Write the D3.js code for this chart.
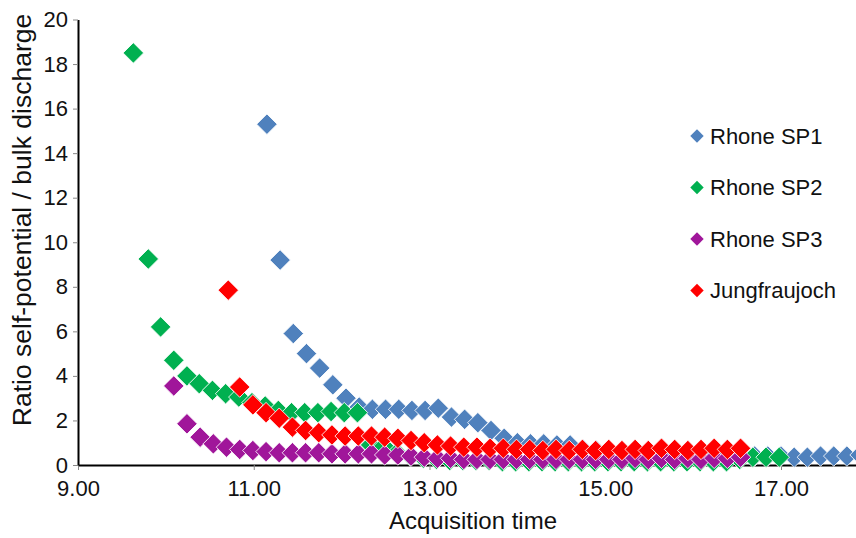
<!DOCTYPE html>
<html>
<head>
<meta charset="utf-8">
<script src="https://cdn.jsdelivr.net/npm/d3@7"></script>
<style>
  html, body { margin: 0; padding: 0; background: #fff; }
  svg { display: block; font-family: "Liberation Sans", Arial, sans-serif; }
</style>
</head>
<body>
<svg id="chart" width="856" height="538"></svg>
<script>
// Acquisition times (decimal hours) and ratio values for each station
const sp1Time = [11.15, 11.30, 11.45, 11.60, 11.75, 11.90, 12.05, 12.20, 12.35, 12.50, 12.65, 12.80, 12.95, 13.10,
  13.25, 13.40, 13.55, 13.70, 13.85, 14.00, 14.15, 14.30, 14.45, 14.60, 14.75, 14.90, 15.05, 15.20, 15.35, 15.50,
  15.65, 15.80, 15.95, 16.10, 16.25, 16.40, 16.55, 16.70, 16.85, 17.00, 17.15, 17.30, 17.45, 17.60, 17.75, 17.90, 18.05];
const sp1Ratio = [15.3, 9.2, 5.9, 5.0, 4.35, 3.6, 3.0, 2.6, 2.5, 2.5, 2.5, 2.45, 2.45, 2.55,
  2.15, 2.05, 1.9, 1.55, 1.2, 1.0, 0.95, 0.95, 0.9, 0.9, 0.7, 0.65, 0.6, 0.6, 0.55, 0.55,
  0.5, 0.5, 0.5, 0.5, 0.45, 0.45, 0.45, 0.4, 0.4, 0.4, 0.35, 0.35, 0.4, 0.4, 0.4, 0.45, 0.45];

const sp2Time = [9.63, 9.80, 9.94, 10.09, 10.24, 10.38, 10.53, 10.68, 10.83, 10.98, 11.13, 11.28, 11.43, 11.58,
  11.73, 11.88, 12.03, 12.18, 12.33, 12.48, 12.63, 12.78, 12.93, 13.08, 13.23, 13.38, 13.53, 13.68, 13.83, 13.98,
  14.13, 14.28, 14.43, 14.58, 14.73, 14.88, 15.03, 15.18, 15.33, 15.48, 15.63, 15.78, 15.93, 16.08, 16.23, 16.38,
  16.53, 16.68, 16.83, 16.98];
const sp2Ratio = [18.5, 9.25, 6.2, 4.7, 4.0, 3.65, 3.35, 3.2, 3.05, 2.8, 2.65, 2.45, 2.35, 2.35,
  2.35, 2.4, 2.35, 2.35, 0.9, 0.85, 0.55, 0.4, 0.3, 0.25, 0.2, 0.2, 0.2, 0.2, 0.15, 0.15,
  0.15, 0.15, 0.15, 0.15, 0.15, 0.15, 0.15, 0.15, 0.15, 0.15, 0.15, 0.15, 0.15, 0.15, 0.15, 0.15,
  0.25, 0.35, 0.35, 0.35];

const sp3Time = [10.09, 10.24, 10.39, 10.54, 10.69, 10.84, 10.99, 11.14, 11.29, 11.44, 11.59, 11.74, 11.89, 12.04,
  12.19, 12.34, 12.49, 12.64, 12.79, 12.94, 13.09, 13.24, 13.39, 13.54, 13.69, 13.84, 13.99, 14.14, 14.29, 14.44,
  14.59, 14.74, 14.89, 15.04, 15.19, 15.34, 15.49, 15.64, 15.79, 15.94, 16.09, 16.24, 16.39, 16.54];
const sp3Ratio = [3.55, 1.85, 1.25, 0.95, 0.8, 0.7, 0.65, 0.6, 0.55, 0.55, 0.55, 0.55, 0.5, 0.5,
  0.5, 0.5, 0.45, 0.45, 0.4, 0.35, 0.3, 0.3, 0.25, 0.25, 0.25, 0.25, 0.25, 0.25, 0.25, 0.25,
  0.25, 0.25, 0.25, 0.25, 0.25, 0.3, 0.25, 0.3, 0.25, 0.3, 0.25, 0.3, 0.3, 0.35];

const jfjTime = [10.71, 10.84, 10.99, 11.14, 11.29, 11.44, 11.59, 11.74, 11.89, 12.04, 12.19, 12.34, 12.49, 12.64,
  12.79, 12.94, 13.09, 13.24, 13.39, 13.54, 13.69, 13.84, 13.99, 14.14, 14.29, 14.44, 14.59, 14.74, 14.89, 15.04,
  15.19, 15.34, 15.49, 15.64, 15.79, 15.94, 16.09, 16.24, 16.39, 16.54];
const jfjRatio = [7.85, 3.5, 2.7, 2.35, 2.1, 1.7, 1.55, 1.45, 1.35, 1.3, 1.3, 1.3, 1.25, 1.2,
  1.1, 1.0, 0.9, 0.85, 0.8, 0.8, 0.75, 0.75, 0.7, 0.7, 0.65, 0.7, 0.65, 0.7, 0.65, 0.7,
  0.65, 0.7, 0.65, 0.75, 0.7, 0.65, 0.7, 0.75, 0.7, 0.75];

const seriesNames = ["Rhone SP1", "Rhone SP2", "Rhone SP3", "Jungfraujoch"];
const seriesColors = ["#4f81bd", "#00b050", "#a0169a", "#ff0000"];
const xTicks = [9, 11, 13, 15, 17];
const yTicks = [0, 2, 4, 6, 8, 10, 12, 14, 16, 18, 20];

const series = [
  { name: seriesNames[0], color: seriesColors[0], t: sp1Time, v: sp1Ratio },
  { name: seriesNames[1], color: seriesColors[1], t: sp2Time, v: sp2Ratio },
  { name: seriesNames[2], color: seriesColors[2], t: sp3Time, v: sp3Ratio },
  { name: seriesNames[3], color: seriesColors[3], t: jfjTime, v: jfjRatio }
];

const svg = d3.select("#chart");
const plotLeft = 78, plotBottom = 465, plotTop = 19.5;
const pxPerHour = 87.875;

const x = d3.scaleLinear().domain([9, 18.3]).range([plotLeft, plotLeft + 9.3 * pxPerHour]);
const y = d3.scaleLinear().domain([0, 20]).range([plotBottom, plotTop]);

// Axes
const xAxis = svg.append("g")
  .attr("transform", `translate(0,${plotBottom})`)
  .call(d3.axisBottom(x).tickValues(xTicks).tickFormat(d3.format(".2f")).tickSize(5).tickSizeOuter(0));
const yAxis = svg.append("g")
  .attr("transform", `translate(${plotLeft},0)`)
  .call(d3.axisLeft(y).tickValues(yTicks).tickSize(5).tickSizeOuter(0));

[xAxis, yAxis].forEach(g => {
  g.select(".domain").attr("stroke", "#000").attr("stroke-width", 2);
  g.selectAll(".tick line").attr("stroke", "#888").attr("stroke-width", 1);
  g.selectAll(".tick text").attr("fill", "#111").style("font-size", "22px")
    .style("font-family", "'Liberation Sans', Arial, sans-serif");
});
xAxis.selectAll(".tick text").attr("dy", "0.95em").attr("y", 10);
yAxis.selectAll(".tick text").attr("x", -10);

// Axis titles
svg.append("text")
  .attr("x", 473).attr("y", 529)
  .attr("text-anchor", "middle")
  .attr("fill", "#111")
  .style("font-size", "24px")
  .text("Acquisition time");

svg.append("text")
  .attr("transform", `translate(31,${220}) rotate(-90)`)
  .attr("text-anchor", "middle")
  .attr("fill", "#111")
  .style("font-size", "26.5px")
  .text("Ratio self-potential / bulk discharge");

// Markers: diamonds as squares rotated 45 degrees
const diamond = d3.symbol().type(d3.symbolSquare).size(210);

const plot = svg.append("g");
series.forEach(s => {
  const pts = s.t.map((t, i) => ({ t, v: s.v[i] }));
  plot.append("g").selectAll("path")
    .data(pts)
    .join("path")
    .attr("d", diamond)
    .attr("transform", d => `translate(${x(d.t)},${y(d.v)}) rotate(45)`)
    .attr("fill", s.color)
    .attr("stroke", "#fff")
    .attr("stroke-width", 0.8);
});

// Legend
const legend = svg.append("g");
series.forEach((s, i) => {
  const ly = 136 + i * 51.5;
  legend.append("path")
    .attr("d", d3.symbol().type(d3.symbolSquare).size(90))
    .attr("transform", `translate(697,${ly}) rotate(45)`)
    .attr("fill", s.color);
  legend.append("text")
    .attr("x", 710).attr("y", ly)
    .attr("dy", "0.35em")
    .attr("fill", "#111")
    .style("font-size", "22px")
    .text(s.name);
});
</script>
</body>
</html>
